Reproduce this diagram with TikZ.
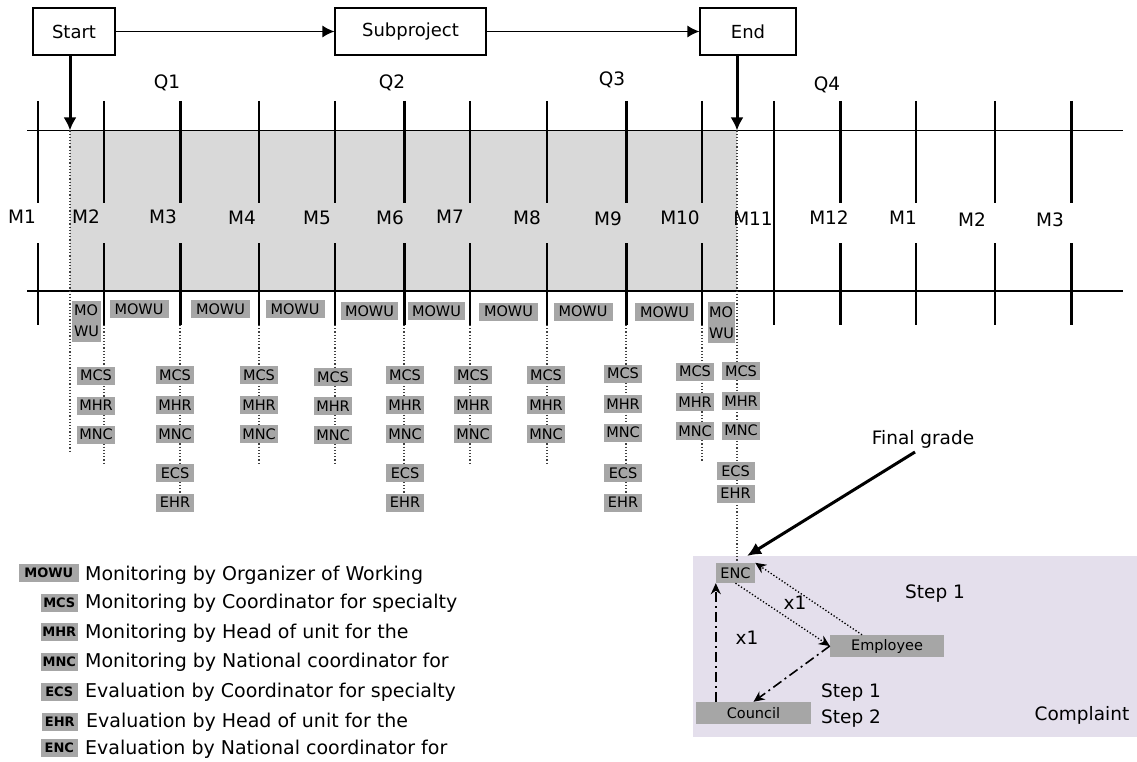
\documentclass[tikz,border=0pt]{standalone}
\usepackage{fontspec}
\setmainfont{DejaVu Sans}
\usetikzlibrary{arrows.meta}
\definecolor{shadecol}{HTML}{D9D9D9}
\definecolor{gbcol}{HTML}{A6A6A6}
\definecolor{cmplcol}{HTML}{E4DFEC}
\begin{document}
\begin{tikzpicture}[x=1pt,y=-1pt,
  txt/.style={font=\fontsize{18.5}{20}\selectfont, inner sep=0pt},
  topbox/.style={draw, line width=1.2pt, inner sep=0pt, font=\fontsize{18}{20}\selectfont},
  gbox/.style={fill=gbcol, inner sep=0pt, font=\fontsize{14.5}{15}\selectfont, minimum width=38, minimum height=18},
  mowubox/.style={gbox, minimum width=59},
  twobox/.style={fill=gbcol, inner sep=0pt, font=\fontsize{14.5}{21}\selectfont, minimum width=29, minimum height=41, align=left},
  legbox/.style={fill=gbcol, inner sep=0pt, font=\bfseries\fontsize{13}{14}\selectfont, minimum width=37, minimum height=18, anchor=east},
  legtxt/.style={font=\fontsize{19}{20}\selectfont, inner sep=0pt, anchor=west},
  thinl/.style={line width=1.2pt},
  thickl/.style={line width=3pt},
  dotl/.style={line width=1.2pt, dotted, black!75},
  harrow/.style={line width=1.2pt, -{Latex[length=12pt,width=12pt]}},
  varrow/.style={line width=3pt, -{Latex[length=13pt,width=13pt]}},
  dotarrow/.style={line width=1.3pt, dotted, -{Stealth[length=11pt,width=10pt]}},
  dasharrow/.style={line width=1.6pt, dash pattern=on 10pt off 4pt on 2pt off 4pt, -{Stealth[length=11pt,width=10pt]}}
]
\useasboundingbox (0,0) rectangle (1137,762);
% backgrounds
\fill[cmplcol] (693,556) rectangle (1137,737);
\fill[shadecol] (70,130.5) rectangle (737,291);
% timeline lines
\draw[thinl] (27,130.5) -- (1123,130.5);
\draw[thinl] (27,291) -- (1123,291);
\draw[dotl] (70,130.5) -- (70,452);
\draw[dotl] (737,130.5) -- (737,563);
\foreach \x in {38,104,259,335,470,547,702,916,995}{
  \draw[thinl] (\x,101) -- (\x,203);
  \draw[thinl] (\x,243) -- (\x,325);
}
\foreach \x in {180,404,626,840,1071}{
  \draw[thickl] (\x,101) -- (\x,203);
  \draw[thickl] (\x,243) -- (\x,325);
}
\draw[thinl] (774,101) -- (774,325);
\foreach \x/\y in {104/463,180/512,259/463,335/463,404/512,470/465,547/465,626/512,702/462}{
  \draw[dotl] (\x,325) -- (\x,\y);
}
% top boxes
\node[topbox, minimum width=82, minimum height=47] (start) at (74,31.5) {Start};
\node[topbox, minimum width=151, minimum height=47] (sub) at (410.5,31.5) {Subproject};
\node[topbox, minimum width=96, minimum height=47] (end) at (748,31.5) {End};
\draw[harrow] (start.east) -- (sub.west);
\draw[harrow] (sub.east) -- (end.west);
\coordinate (tstart) at (70,130.5);
\coordinate (tend) at (737,130.5);
\draw[varrow] (tstart |- start.south) -- (tstart);
\draw[varrow] (tend |- end.south) -- (tend);
% quarter labels
\node[txt] (q1) at (167,83) {Q1};
\node[txt] (q2) at (392,83) {Q2};
\node[txt] (q3) at (612,80) {Q3};
\node[txt] (q4) at (827,85) {Q4};
% month labels
\foreach \n/\x/\y/\t in {m1/22/217/M1, m2/86/217/M2, m3/163/217/M3, m4/242/218/M4, m5/317/218/M5, m6/390/218/M6, m7/450/217/M7, m8/527/218/M8, m9/608/219/M9, m10/680/218/M10, m11/753/219/M11, m12/829/218/M12, n1/903/218/M1, n2/972/220/M2, n3/1050/220/M3}{
  \node[txt] (\n) at (\x,\y) {\t};
}
% MOWU boxes
\node[twobox] (mowa) at (86.5,321) {MO\\WU};
\node[mowubox] (mow1) at (139,309) {MOWU};
\node[mowubox] (mow2) at (220.5,309) {MOWU};
\node[mowubox] (mow3) at (295,309) {MOWU};
\node[mowubox, minimum width=57] (mow4) at (369.5,311) {MOWU};
\node[mowubox, minimum width=57] (mow5) at (436.5,311) {MOWU};
\node[mowubox] (mow6) at (508.5,311.5) {MOWU};
\node[mowubox] (mow7) at (583,311.5) {MOWU};
\node[mowubox] (mow8) at (664.5,312) {MOWU};
\node[twobox, minimum width=27] (mowb) at (721.5,322.5) {MO\\WU};
% monitoring columns
\foreach \c/\x/\a/\b/\d in {1/96/375.5/405.5/434.5, 2/175/375/405/434, 3/259/375/405/434, 4/333/377/406/435, 5/405/375/405/434, 6/473/375/405/434, 7/546/375/405/434, 8/623/373.5/404/432.5, 9/695/371.5/402/431, 10/741/371/401/430.5}{
  \node[gbox] (mcs\c) at (\x,\a) {MCS};
  \node[gbox] (mhr\c) at (\x,\b) {MHR};
  \node[gbox] (mnc\c) at (\x,\d) {MNC};
}
\foreach \c/\x in {2/175, 5/405, 8/623}{
  \node[gbox] (ecs\c) at (\x,473) {ECS};
  \node[gbox] (ehr\c) at (\x,502.5) {EHR};
}
\node[gbox] (ecs10) at (735.5,471) {ECS};
\node[gbox] (ehr10) at (735.5,493.5) {EHR};
\node[gbox, minimum width=39, minimum height=20] (enc) at (735.5,573) {ENC};
% complaint region
\node[fill=gbcol, inner sep=0pt, minimum width=114, minimum height=22, font=\fontsize{14.5}{16}\selectfont] (emp) at (887,646) {Employee};
\node[fill=gbcol, inner sep=0pt, minimum width=115, minimum height=22, font=\fontsize{14.5}{16}\selectfont] (council) at (753.5,713) {Council};
\node[txt] (fg) at (923,439) {Final grade};
\coordinate (fgend) at (747,556);
\draw[line width=3pt, -{Latex[length=14pt,width=13pt]}] (915,452) -- (fgend);
\draw[dotarrow] (enc.south) -- (emp.west);
\draw[dotarrow] ([xshift=-25pt]emp.north) -- (enc.north east);
\draw[dasharrow] (emp.west) -- (council.north);
\draw[dasharrow] (council.north -| enc.south west) -- (enc.south west);
\node[txt] (xa) at (795,603) {x1};
\node[txt] (xb) at (747,638) {x1};
\node[txt] (s1a) at (935,594) {Step 1};
\node[txt] (s1b) at (851,693) {Step 1};
\node[txt] (s2) at (851,719) {Step 2};
\node[txt] (cmp) at (1082,715) {Complaint};
% legend
\node[legbox, minimum width=60] (lb1) at (79,573) {MOWU};
\node[legbox] (lb2) at (78,603) {MCS};
\node[legbox] (lb3) at (78,632) {MHR};
\node[legbox] (lb4) at (78,662) {MNC};
\node[legbox] (lb5) at (78,692) {ECS};
\node[legbox, minimum width=36] (lb6) at (78,722) {EHR};
\node[legbox] (lb7) at (78,748) {ENC};
\node[legtxt] (lt1) at (85,575) {Monitoring by Organizer of Working};
\node[legtxt] (lt2) at (85,603) {Monitoring by Coordinator for specialty};
\node[legtxt] (lt3) at (85,633) {Monitoring by Head of unit for the};
\node[legtxt] (lt4) at (85,662) {Monitoring by National coordinator for};
\node[legtxt] (lt5) at (85,692) {Evaluation by Coordinator for specialty};
\node[legtxt] (lt6) at (86,722) {Evaluation by Head of unit for the};
\node[legtxt] (lt7) at (85,749) {Evaluation by National coordinator for};
\end{tikzpicture}
\end{document}
